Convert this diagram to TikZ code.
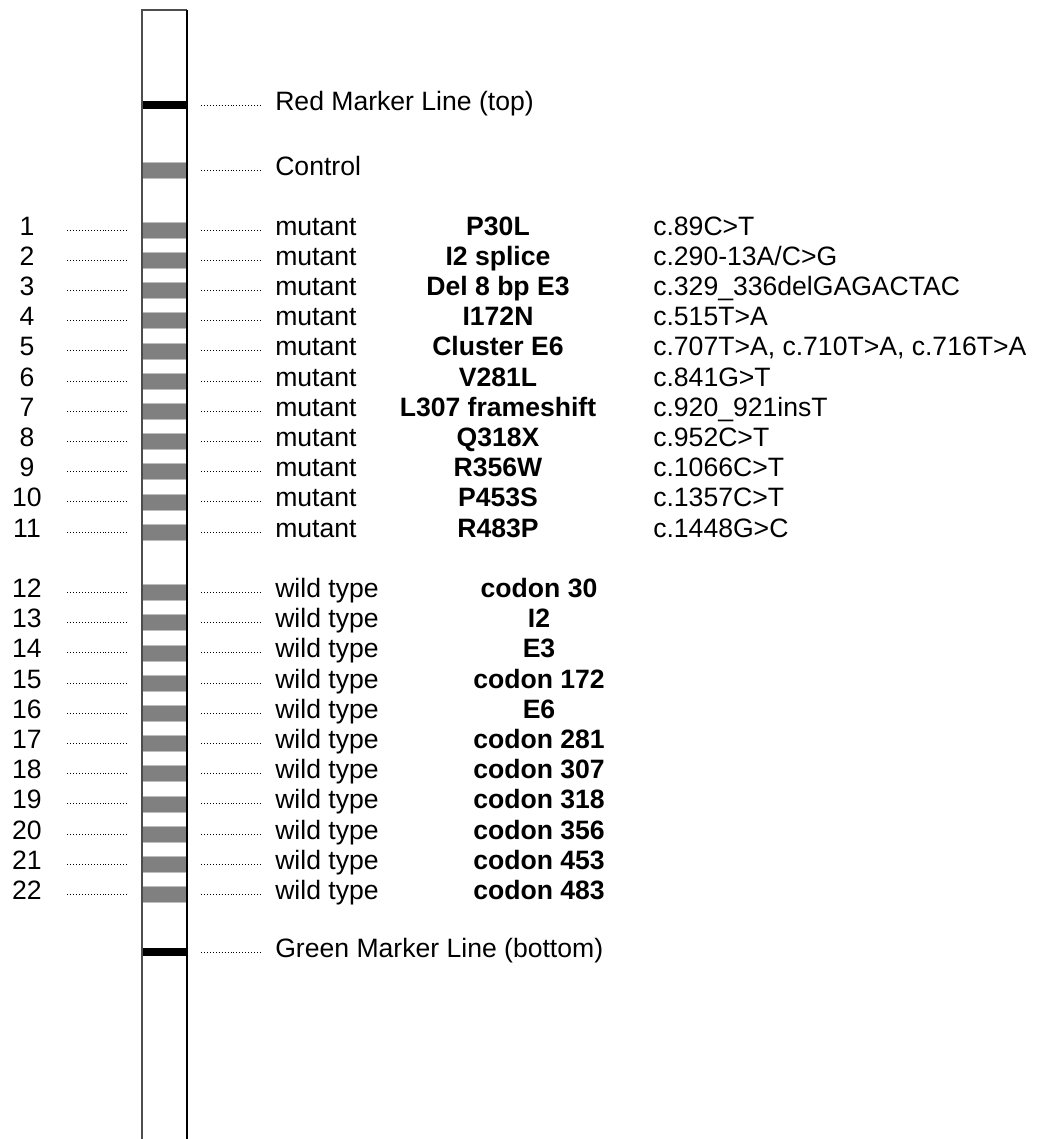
\documentclass[tikz,border=0pt]{standalone}
\usepackage{fontspec}
\setmainfont{Liberation Sans}
\usetikzlibrary{positioning,calc}
\definecolor{bandgrau}{HTML}{808080}
\definecolor{kante}{HTML}{BDBDBD}
\definecolor{rand}{HTML}{4D4D4D}
\tikzset{
  band/.style={fill=bandgrau,draw=kante,line width=0.4pt,minimum width=1.125cm,minimum height=0.4cm,inner sep=0pt,outer sep=0pt},
  markline/.style={fill=black,minimum width=1.125cm,minimum height=0.2cm,inner sep=0pt,outer sep=0pt},
  lead/.style={line width=0.6pt,dash pattern=on 0.6pt off 1.5pt},
  lefts/.style={lead,shorten <=0.375cm,shorten >=0.95cm},
  rights/.style={lead,shorten <=0.35cm,shorten >=0.3cm},
  txt/.style={font=\fontsize{18.9}{22}\selectfont,inner sep=0pt,anchor=base west},
  num/.style={txt,anchor=base},
  mutname/.style={txt,anchor=base,font=\fontsize{18.9}{22}\selectfont\bfseries},
  strip/.style={line width=1.1pt},
}
\begin{document}
\begin{tikzpicture}[x=0.025cm,y=-0.025cm]
  \useasboundingbox (0,0) rectangle (1038,1139);
  \node[markline] (red) at (164.5,105) {};
  \node[txt] (tred) at (275,110) {Red Marker Line (top)};
  \draw[rights] (red.east) -- (red.east -| tred.west);
  \node[band] (ctrl) at (164.5,170) {};
  \node[txt] (tctrl) at (275,175) {Control};
  \draw[rights] (ctrl.east) -- (ctrl.east -| tctrl.west);
  \foreach \n/\m/\c [evaluate=\n as \y using 230+(\n-1)*30.2] in {
      1/P30L/c.89C>T, 2/I2 splice/{c.290-13A/C>G}, 3/Del 8 bp E3/c.329\_336delGAGACTAC,
      4/I172N/c.515T>A, 5/Cluster E6/{c.707T>A, c.710T>A, c.716T>A}, 6/V281L/c.841G>T,
      7/L307 frameshift/c.920\_921insT, 8/Q318X/c.952C>T, 9/R356W/c.1066C>T,
      10/P453S/c.1357C>T, 11/R483P/c.1448G>C} {
    \node[band] (b\n) at (164.5,\y) {};
    \node[num] (n\n) at (27,\y+5) {\n};
    \node[txt] (t\n) at (275,\y+5) {mutant};
    \node[mutname] (m\n) at (498,\y+5) {\m};
    \node[txt] (c\n) at (653,\y+5) {\c};
    \draw[lefts] (b\n.west) -- (b\n.west -| n\n);
    \draw[rights] (b\n.east) -- (b\n.east -| t\n.west);
  }
  \foreach \n/\m [evaluate=\n as \y using 230+\n*30.2] in {
      12/codon 30, 13/I2, 14/E3, 15/codon 172, 16/E6, 17/codon 281,
      18/codon 307, 19/codon 318, 20/codon 356, 21/codon 453, 22/codon 483} {
    \node[band] (b\n) at (164.5,\y) {};
    \node[num] (n\n) at (27,\y+5) {\n};
    \node[txt] (t\n) at (275,\y+5) {wild type};
    \node[mutname] (m\n) at (539,\y+5) {\m};
    \draw[lefts] (b\n.west) -- (b\n.west -| n\n);
    \draw[rights] (b\n.east) -- (b\n.east -| t\n.west);
  }
  \node[markline] (green) at (164.5,952) {};
  \node[txt] (tgreen) at (275,957) {Green Marker Line (bottom)};
  \draw[rights] (green.east) -- (green.east -| tgreen.west);
  \draw[strip,rand] (142,1139) -- (142,10) -- (187,10);
  \draw[strip] (187,10) -- (187,1139);
\end{tikzpicture}
\end{document}
